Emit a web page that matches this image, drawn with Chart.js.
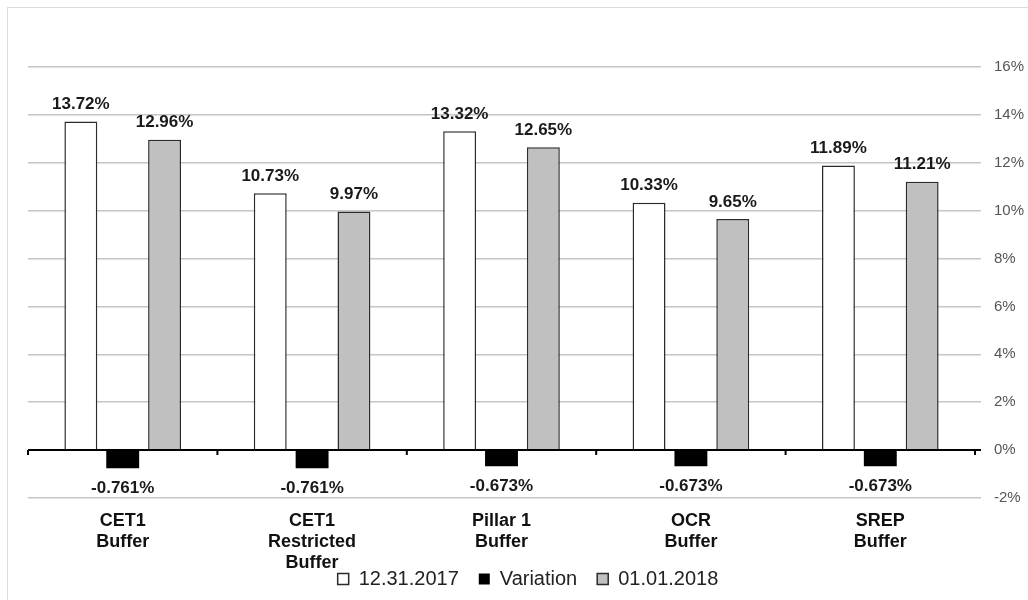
<!DOCTYPE html>
<html>
<head>
<meta charset="utf-8">
<script src="https://cdn.jsdelivr.net/npm/chart.js@4"></script>
<style>
    body { margin: 0; background: #fff; overflow: hidden; }
    #frame {
        position: absolute; left: 7px; top: 7px; width: 1021px; height: 593px;
        border-left: 1px solid #dcdcdc; border-top: 1px solid #dcdcdc;
        overflow: hidden;
    }
    #chart { display: block; }
</style>
</head>
<body>
<div id="frame"><canvas id="chart" width="1020" height="591"></canvas></div>
<script>
// chart data
const categories = [
    ["CET1", "Buffer"],
    ["CET1", "Restricted", "Buffer"],
    ["Pillar 1", "Buffer"],
    ["OCR", "Buffer"],
    ["SREP", "Buffer"]
];
const seriesNames = ["12.31.2017", "Variation", "01.01.2018"];
const values2017 = [13.72, 10.73, 13.32, 10.33, 11.89];
const variation = [-0.761, -0.761, -0.673, -0.673, -0.673];
const values2018 = [12.96, 9.97, 12.65, 9.65, 11.21];
const yTicks = [-2, 0, 2, 4, 6, 8, 10, 12, 14, 16];

const fontFamily = "'Liberation Sans', Arial, sans-serif";

// labels above/below each bar
const barLabels = {
    id: "barLabels",
    afterDatasetsDraw(chart) {
        const ctx = chart.ctx;
        ctx.save();
        ctx.font = "bold 17px " + fontFamily;
        ctx.fillStyle = "#1a1a1a";
        ctx.textAlign = "center";
        ctx.textBaseline = "middle";
        chart.data.datasets.forEach((ds, i) => {
            const meta = chart.getDatasetMeta(i);
            meta.data.forEach((bar, j) => {
                const v = ds.data[j];
                if (v < 0) {
                    ctx.fillText(v.toFixed(3) + "%", bar.x, bar.y + 20);
                } else {
                    ctx.fillText(v.toFixed(2) + "%", bar.x, bar.y - 17);
                }
            });
        });
        ctx.restore();
    }
};

// black zero line with small ticks between categories
const zeroTicks = {
    id: "zeroTicks",
    afterDatasetsDraw(chart) {
        const ctx = chart.ctx;
        const area = chart.chartArea;
        const y0 = chart.scales.y.getPixelForValue(0);
        const step = (area.right - area.left) / categories.length;
        ctx.save();
        ctx.strokeStyle = "#000";
        ctx.lineWidth = 2;
        ctx.beginPath();
        ctx.moveTo(area.left, y0);
        ctx.lineTo(area.right, y0);
        for (let i = 0; i <= categories.length; i++) {
            const x = area.left + i * step;
            ctx.moveTo(x, y0);
            ctx.lineTo(x, y0 + 5);
        }
        ctx.stroke();
        ctx.restore();
    }
};

const ctx = document.getElementById("chart").getContext("2d");

new Chart(ctx, {
    type: "bar",
    data: {
        labels: categories,
        datasets: [
            {
                label: seriesNames[0],
                data: values2017,
                backgroundColor: "#ffffff",
                borderColor: "#2b2b2b",
                borderWidth: 1.5
            },
            {
                label: seriesNames[1],
                data: variation,
                backgroundColor: "#000000",
                borderColor: "#000000",
                borderWidth: 0
            },
            {
                label: seriesNames[2],
                data: values2018,
                backgroundColor: "#c0c0c0",
                borderColor: "#2b2b2b",
                borderWidth: 1.5
            }
        ]
    },
    options: {
        responsive: false,
        animation: false,
        categoryPercentage: 0.663,
        barPercentage: 0.786,
        layout: { padding: { top: 59, left: 20, right: 0, bottom: 0 } },
        plugins: {
            legend: {
                position: "bottom",
                labels: {
                    font: { family: fontFamily, size: 20 },
                    color: "#222",
                    boxWidth: 11,
                    boxHeight: 11,
                    padding: 20
                }
            },
            tooltip: { enabled: false }
        },
        scales: {
            x: {
                grid: { display: false, drawTicks: false },
                border: { display: false },
                ticks: {
                    padding: 13,
                    color: "#111",
                    maxRotation: 0,
                    font: { family: fontFamily, size: 18, weight: "bold", lineHeight: 1.15 }
                },
                afterFit(scale) {
                    // let the 3-line label run down next to the legend like the original
                    scale.height = 51;
                    scale._computeLabelArea = () => undefined;
                }
            },
            y: {
                position: "right",
                min: -2,
                max: 16,
                afterBuildTicks(scale) {
                    scale.ticks = yTicks.map(v => ({ value: v }));
                },
                border: { display: false },
                grid: {
                    color: c => c.tick && c.tick.value === 0 ? "#000" : "#c6c6c6",
                    lineWidth: c => c.tick && c.tick.value === 0 ? 2 : 1.5,
                    tickLength: 6
                },
                ticks: {
                    padding: 13,
                    color: "#555",
                    font: { family: fontFamily, size: 15 },
                    callback: v => v + "%"
                },
                afterFit(scale) { scale.width = 53; }
            }
        }
    },
    plugins: [barLabels, zeroTicks]
});
</script>
</body>
</html>
